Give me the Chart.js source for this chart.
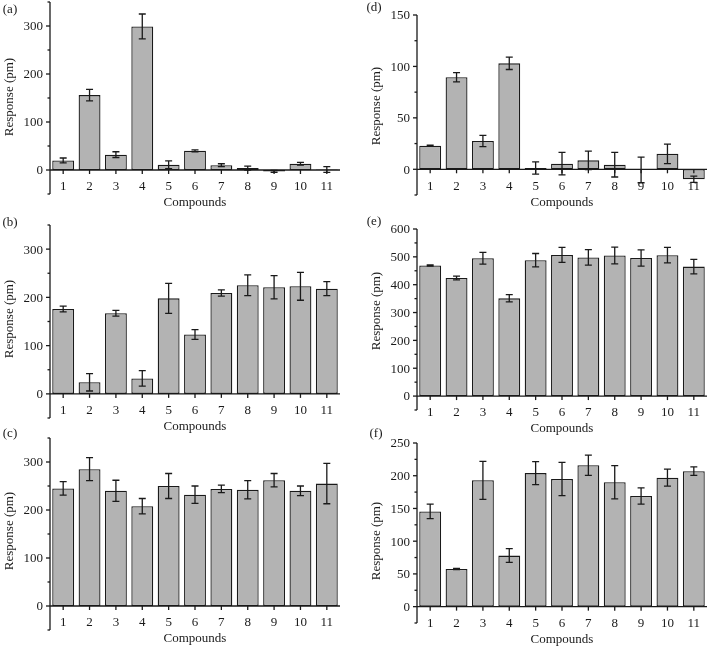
<!DOCTYPE html>
<html>
<head>
<meta charset="utf-8">
<script src="https://cdn.jsdelivr.net/npm/chart.js@4.4.1/dist/chart.umd.min.js"></script>
<style>
  html, body { margin: 0; padding: 0; background: #fff; }
  #wrap { position: relative; width: 710px; height: 649px; }
  #wrap canvas { position: absolute; left: 0; top: 0; }
</style>
</head>
<body>
<div id="wrap">
  <canvas id="pa" width="710" height="649"></canvas>
  <canvas id="pb" width="710" height="649"></canvas>
  <canvas id="pc" width="710" height="649"></canvas>
  <canvas id="pd" width="710" height="649"></canvas>
  <canvas id="pe" width="710" height="649"></canvas>
  <canvas id="pf" width="710" height="649"></canvas>
</div>
<script>
// compounds 1..11
const compounds = ['1', '2', '3', '4', '5', '6', '7', '8', '9', '10', '11'];

// response values (pm) and error bars
const respA = [20, 156, 32, 299, 11, 40, 10, 4, -3, 13, 1];
const errA  = [5, 12, 6, 26, 8, 2, 3, 4, 2, 3, 6];

const respB = [176, 24, 167, 32, 198, 123, 209, 225, 221, 223, 218];
const errB  = [6, 18, 6, 16, 31, 10, 6.5, 21.5, 24, 29, 14.5];

const respC = [245, 285, 240, 208, 250, 232, 244, 242, 262, 240, 255];
const errC  = [14, 24, 22, 16, 26, 18, 8, 19, 14, 10, 42];

const respD = [23, 89.5, 27.5, 103, 1.3, 5.5, 8.7, 4.5, -0.6, 15, -9.7];
const errD  = [0.5, 4.5, 5.5, 6, 6, 11, 9, 12, 12.5, 9.5, 3];

const respE = [469, 424, 495, 351, 488, 507, 498, 505, 496, 506, 465];
const errE  = [2, 7, 21, 13, 24, 27, 28, 30, 29, 28, 26];

const respF = [145.5, 57.5, 193, 78, 204, 195, 216, 190, 169, 197, 207];
const errF  = [11, 1, 29, 10.5, 17.5, 25.5, 15.5, 25.5, 12.5, 13, 6.5];

// y axis ranges and tick steps
const yTicksA = { min: -50, max: 350, major: 100, minor: 50 };
const yTicksD = { min: -25, max: 150, major: 50, minor: 25 };
const yTicksE = { min: -50, max: 600, major: 100, minor: 50 };
const yTicksF = { min: -25, max: 250, major: 50, minor: 25 };

const panels = [
    { id: 'pa', tag: '(a)', data: respA, err: errA, y: yTicksA, area: [50, 2, 340, 194], tagPos: [10, 10], titleY: 97 },
    { id: 'pb', tag: '(b)', data: respB, err: errB, y: yTicksA, area: [50, 225, 340, 418], tagPos: [10, 223], titleY: 319 },
    { id: 'pc', tag: '(c)', data: respC, err: errC, y: yTicksA, area: [50, 438, 340, 630], tagPos: [10, 434], titleY: 531 },
    { id: 'pd', tag: '(d)', data: respD, err: errD, y: yTicksD, area: [417, 15, 707, 195], tagPos: [374, 8], titleY: 106 },
    { id: 'pe', tag: '(e)', data: respE, err: errE, y: yTicksE, area: [417, 229, 707, 410], tagPos: [374, 222], titleY: 311 },
    { id: 'pf', tag: '(f)', data: respF, err: errF, y: yTicksF, area: [417, 443, 707, 623], tagPos: [376, 434], titleY: 541 }
];

const FONT = '13px "Liberation Serif", "Times New Roman", serif';
const INK = '#1a1a1a';

// axes, ticks, labels and error bars in Origin style
const originAxes = {
    id: 'originAxes',
    afterDatasetsDraw(chart, args, opts) {
        const ctx = chart.ctx;
        const xs = chart.scales.x;
        const ys = chart.scales.y;
        const area = chart.chartArea;
        const p = opts.panel;
        const y0 = ys.getPixelForValue(0);

        ctx.save();
        ctx.strokeStyle = INK;
        ctx.fillStyle = INK;

        // error bars
        ctx.lineWidth = 1.3;
        p.data.forEach((v, i) => {
            const x = xs.getPixelForValue(i);
            const top = ys.getPixelForValue(v + p.err[i]);
            const bot = ys.getPixelForValue(v - p.err[i]);
            ctx.beginPath();
            ctx.moveTo(x, top); ctx.lineTo(x, bot);
            ctx.moveTo(x - 3.5, top); ctx.lineTo(x + 3.5, top);
            ctx.moveTo(x - 3.5, bot); ctx.lineTo(x + 3.5, bot);
            ctx.stroke();
        });

        // y axis line
        ctx.lineWidth = 1.3;
        ctx.beginPath();
        ctx.moveTo(area.left, area.top);
        ctx.lineTo(area.left, area.bottom);
        ctx.stroke();

        // zero line as x axis
        ctx.beginPath();
        ctx.moveTo(area.left, y0);
        ctx.lineTo(area.right, y0);
        ctx.stroke();

        // y ticks and labels
        ctx.font = FONT;
        ctx.textAlign = 'right';
        ctx.textBaseline = 'middle';
        const n = Math.round((p.y.max - p.y.min) / p.y.minor);
        for (let k = 0; k <= n; k++) {
            const v = p.y.min + k * p.y.minor;
            const py = ys.getPixelForValue(v);
            const isMajor = v >= 0 && v % p.y.major === 0;
            ctx.beginPath();
            ctx.moveTo(area.left - (isMajor ? 4 : 2.5), py);
            ctx.lineTo(area.left, py);
            ctx.stroke();
            if (isMajor) ctx.fillText(String(v), area.left - 7, py + 1);
        }

        // x ticks and category labels
        ctx.textAlign = 'center';
        compounds.forEach((c, i) => {
            const x = xs.getPixelForValue(i);
            ctx.beginPath();
            ctx.moveTo(x, y0);
            ctx.lineTo(x, y0 + 4);
            ctx.stroke();
            ctx.fillText(c, x, y0 + 17);
        });

        // axis titles
        ctx.fillText('Compounds', (area.left + area.right) / 2, y0 + 33);
        ctx.save();
        ctx.translate(area.left - 40, p.titleY);
        ctx.rotate(-Math.PI / 2);
        ctx.fillText('Response (pm)', 0, 0);
        ctx.restore();

        // panel tag
        ctx.fillText(p.tag, p.tagPos[0], p.tagPos[1]);
        ctx.restore();
    }
};

panels.forEach(p => {
    const ctx = document.getElementById(p.id).getContext('2d');
    new Chart(ctx, {
        type: 'bar',
        data: {
            labels: compounds,
            datasets: [{
                data: p.data,
                backgroundColor: '#b3b3b3',
                borderColor: INK,
                borderWidth: 1.3,
                borderSkipped: false,
                categoryPercentage: 1,
                barPercentage: 0.83
            }]
        },
        options: {
            responsive: false,
            animation: false,
            events: [],
            layout: {
                padding: {
                    left: p.area[0],
                    top: p.area[1],
                    right: 710 - p.area[2],
                    bottom: 649 - p.area[3]
                }
            },
            plugins: {
                legend: { display: false },
                tooltip: { enabled: false },
                originAxes: { panel: p }
            },
            scales: {
                x: { display: false, offset: true },
                y: { display: false, min: p.y.min, max: p.y.max }
            }
        },
        plugins: [originAxes]
    });
});
</script>
</body>
</html>
